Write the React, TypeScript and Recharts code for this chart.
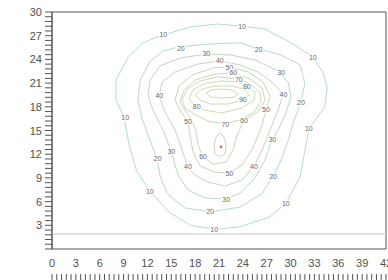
import React from 'react';
import { ComposedChart, Line, Scatter, XAxis, YAxis, ReferenceArea, ReferenceLine } from 'recharts';

// Axis labels
const xTickLabels = [0, 3, 6, 9, 12, 15, 18, 21, 24, 27, 30, 33, 36, 39, 42];
const yTickLabels = [0, 3, 6, 9, 12, 15, 18, 21, 24, 27, 30];
const minorPerMajor = 5;

// Contour lines (x, y) per level
const c10 = [[20.75,28.48],[23.9,28.2],[26.8,27.85],[29.9,26.2],[32.8,24.3],[34.1,22.3],[34.6,20.4],[34.3,18.0],[32.3,15.2],[31.7,11.9],[31.2,9.1],[29.4,5.8],[27.4,4.05],[23.6,2.8],[20.4,2.5],[17.4,3.0],[14.8,4.6],[12.3,7.3],[10.6,10.0],[9.7,13.2],[9.05,16.7],[8.05,18.9],[8.05,21.4],[9.6,24.3],[11.4,26.1],[14.0,27.1],[17.4,28.1]];
const c20 = [[16.1,25.6],[19.9,25.95],[23.65,26.1],[26.0,25.3],[28.7,24.6],[31.2,23.3],[31.8,21.0],[31.3,18.6],[30.3,15.9],[29.6,13.4],[28.7,11.0],[27.8,9.2],[26.4,7.0],[23.65,5.3],[19.9,4.7],[16.7,5.2],[14.5,7.0],[13.6,9.2],[13.2,11.5],[12.3,13.8],[11.3,16.6],[10.8,18.9],[11.1,21.4],[12.3,23.7],[14.0,25.1]];
const c30 = [[19.37,24.68],[22.39,24.56],[25.54,23.92],[28.18,22.66],[29.69,21.14],[30.06,19.24],[29.31,16.96],[28.43,15.06],[27.67,13.8],[26.79,11.27],[25.54,8.99],[23.65,7.09],[21.89,6.33],[19.25,6.46],[17.11,7.47],[15.85,9.37],[14.97,12.41],[13.96,15.06],[12.7,17.59],[12.08,19.49],[12.33,21.39],[13.58,23.16],[16.1,24.18]];
const c40 = [[21.13,23.8],[23.65,23.29],[25.91,22.41],[27.67,21.14],[29.06,19.62],[28.43,17.59],[27.42,15.06],[26.42,12.53],[25.41,10.51],[23.9,8.73],[21.76,7.97],[19.62,8.48],[17.99,9.37],[17.11,10.38],[16.35,12.53],[15.47,15.06],[14.21,17.34],[13.46,19.37],[13.84,21.14],[15.47,22.41],[18.37,23.42]];
const c50 = [[15.47,18.86],[15.98,20.63],[17.61,22.03],[20.25,22.91],[22.27,23.04],[24.66,22.41],[26.54,21.14],[27.42,19.37],[26.92,17.59],[26.29,15.32],[25.28,12.78],[23.9,10.63],[22.27,9.62],[20.38,9.75],[18.62,10.51],[17.74,12.28],[17.36,14.43],[17.11,16.08],[16.1,17.59]];
const c60 = [[16.1,18.61],[16.6,20.13],[17.99,21.39],[20.5,22.15],[22.77,22.28],[24.91,21.52],[26.42,20.38],[26.79,18.86],[25.91,17.34],[24.15,16.33],[23.27,14.43],[22.77,12.53],[21.89,11.01],[20.25,10.76],[18.99,11.65],[18.37,13.16],[18.11,14.81],[17.61,16.33],[16.73,17.59]];
const c70 = [[16.35,18.86],[16.98,20.25],[18.62,21.27],[20.88,21.77],[23.52,21.52],[25.16,20.76],[26.16,19.75],[26.29,18.61],[25.41,17.34],[23.65,16.33],[21.76,15.82],[19.62,16.2],[17.86,17.09],[16.73,17.85]];
const c70b = [[21.13,14.68],[21.64,14.18],[21.89,13.16],[21.76,12.03],[21.13,11.65],[20.5,12.03],[20.38,13.16],[20.63,14.18]];
const c80 = [[17.23,19.11],[17.86,20.25],[19.37,21.01],[21.38,21.27],[23.4,21.14],[24.53,20.63],[25.54,19.87],[25.41,18.86],[23.9,17.85],[21.38,17.22],[19.12,17.59],[18.24,18.1],[17.49,18.61]];
const c90 = [[17.99,19.49],[18.87,20.25],[20.5,20.63],[22.64,20.63],[24.03,20.25],[24.78,19.49],[24.03,18.86],[22.14,18.35],[19.87,18.35],[18.62,18.86]];
const c100 = [[19.37,19.75],[20.13,20.13],[21.38,20.25],[22.64,20.13],[23.4,19.62],[22.89,19.24],[21.38,19.11],[19.87,19.24]];

// Contour labels [x, y, level]
const contourLabels = [
  [14.0,27.1,10],[23.9,28.2,10],[32.8,24.3,10],[9.2,16.7,10],[32.3,15.2,10],[12.3,7.3,10],[29.4,5.8,10],[20.4,2.5,10],
  [16.2,25.4,20],[26.0,25.3,20],[31.3,18.6,20],[27.8,9.2,20],[19.9,4.7,20],[13.3,11.5,20],
  [19.4,24.7,30],[28.8,22.4,30],[27.7,13.8,30],[21.9,6.3,30],[15.0,12.4,30],
  [21.1,23.8,40],[13.5,19.4,40],[29.1,19.6,40],[25.4,10.5,40],[17.1,10.4,40],
  [22.3,23.0,50],[26.9,17.6,50],[17.1,16.1,50],[22.3,9.6,50],
  [22.8,22.3,60],[24.15,16.3,60],[19.0,11.65,60],
  [23.5,21.5,70],[21.8,15.8,70],
  [24.5,20.6,80],[18.2,18.1,80],
  [24.0,18.9,90],
];

const peak = [[21.26, 12.91]];
const baselineY = 1.9;

const contours = [
  { key: 'c10', pts: c10, color: '#b4dcd4' },
  { key: 'c20', pts: c20, color: '#b9d9cf' },
  { key: 'c30', pts: c30, color: '#bed7c9' },
  { key: 'c40', pts: c40, color: '#c3d6c3' },
  { key: 'c50', pts: c50, color: '#c7d6bd' },
  { key: 'c60', pts: c60, color: '#cbd7b8' },
  { key: 'c70', pts: c70, color: '#ced8b4' },
  { key: 'c70b', pts: c70b, color: '#ced8b4' },
  { key: 'c80', pts: c80, color: '#d0d9b1' },
  { key: 'c90', pts: c90, color: '#d2daae' },
  { key: 'c100', pts: c100, color: '#d3dbac' },
];

function subdivide(labels: number[]): number[] {
  const out: number[] = [];
  for (let i = 0; i < labels.length - 1; i++) {
    const a = labels[i], b = labels[i + 1];
    for (let k = 0; k < minorPerMajor; k++) out.push(+(a + ((b - a) * k) / minorPerMajor).toFixed(4));
  }
  out.push(labels[labels.length - 1]);
  return out;
}

const xTicks = subdivide(xTickLabels);
const yTicks = subdivide(yTickLabels);
const FONT = '"Liberation Sans", Arial, Helvetica, sans-serif';

const XTick = (p: any) => {
  const { x, y, payload } = p;
  const v = payload.value;
  const major = xTickLabels.includes(v);
  return (
    <g>
      {major && (
        <text x={x} y={y + 18} textAnchor="middle" fontSize={11} fill="#505050" fontFamily={FONT}>{v}</text>
      )}
      <line x1={x} x2={x} y1={y + 25} y2={y + 31} stroke="#555" strokeWidth={1} />
    </g>
  );
};

const YTick = (p: any) => {
  const { x, y, payload } = p;
  const v = payload.value;
  const major = yTickLabels.includes(v) && v !== 0;
  return (
    <g>
      {major && (
        <text x={x - 10} y={y + 4} textAnchor="end" fontSize={11} fill="#505050" fontFamily={FONT}>{v}</text>
      )}
      <line x1={x - 7} x2={x} y1={y} y2={y} stroke="#555" strokeWidth={1} />
    </g>
  );
};

const LabelShape = (p: any) => (
  <text
    x={p.cx}
    y={p.cy}
    dy={2.5}
    textAnchor="middle"
    fontSize={7}
    fill="#666"
    stroke="#fff"
    strokeWidth={2.5}
    paintOrder="stroke"
    fontFamily={FONT}
  >
    {p.payload.t}
  </text>
);

const DotShape = (p: any) => <circle cx={p.cx} cy={p.cy} r={1.4} fill="#e06a6a" />;

export default function App() {
  const labelData = contourLabels.map(([x, y, t]) => ({ x, y, t }));
  const peakData = peak.map(([x, y]) => ({ x, y }));
  return (
    <div style={{ position: 'absolute', left: 0, top: 0 }}>
      <ComposedChart width={388} height={280} margin={{ top: 12, right: 2, left: 0, bottom: 0 }}>
        <XAxis
          type="number"
          dataKey="x"
          domain={[0, 42]}
          ticks={xTicks}
          interval={0}
          height={31}
          axisLine={false}
          tickLine={false}
          tickSize={0}
          tickMargin={0}
          tick={<XTick />}
          allowDataOverflow
        />
        <YAxis yAxisId="pad" type="number" domain={[0, 30]} width={12} tick={false} axisLine={false} tickLine={false} allowDataOverflow />
        <YAxis
          yAxisId="axis"
          type="number"
          domain={[0, 30]}
          ticks={yTicks}
          interval={0}
          width={40}
          axisLine={{ stroke: '#555' }}
          tickLine={false}
          tickSize={0}
          tickMargin={0}
          tick={<YTick />}
          allowDataOverflow
        />
        <ReferenceLine yAxisId="pad" y={baselineY} stroke="#d6d6d6" strokeWidth={1.5} />
        {contours.map((c) => (
          <Line
            key={c.key}
            yAxisId="pad"
            data={c.pts.map(([x, y]) => ({ x, y }))}
            dataKey="y"
            type="linearClosed"
            stroke={c.color}
            strokeWidth={1}
            dot={false}
            activeDot={false}
            isAnimationActive={false}
          />
        ))}
        <Scatter yAxisId="pad" data={labelData} dataKey="y" shape={LabelShape} isAnimationActive={false} />
        <Scatter yAxisId="pad" data={peakData} dataKey="y" shape={DotShape} isAnimationActive={false} />
        <ReferenceArea yAxisId="pad" x1={0} x2={42} y1={0} y2={30} fill="none" fillOpacity={0} stroke="#555" strokeWidth={1} />
      </ComposedChart>
    </div>
  );
}
